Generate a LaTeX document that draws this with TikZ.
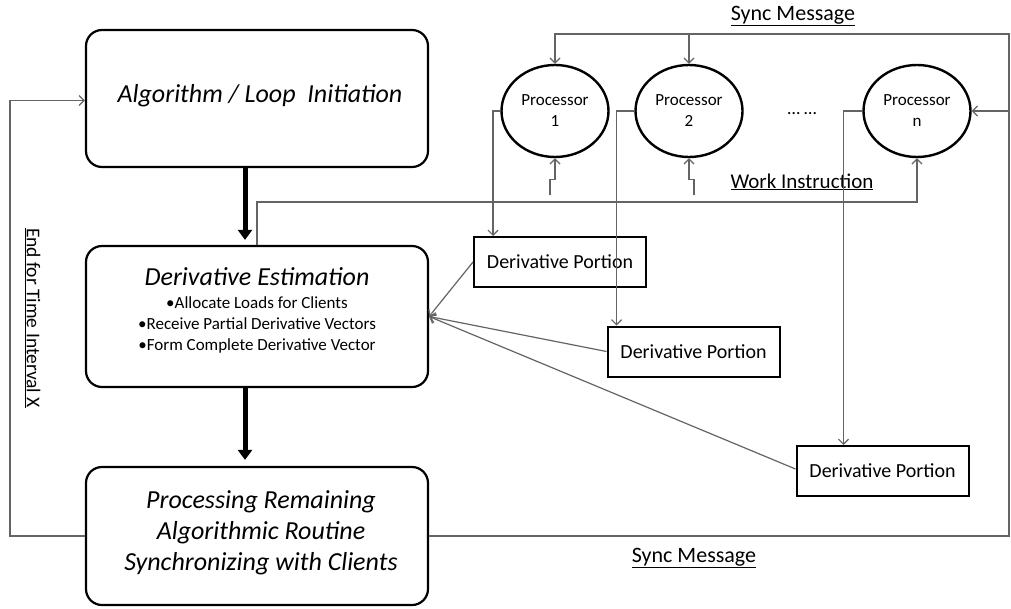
\documentclass[tikz,border=0pt]{standalone}
\usepackage{fontspec}
\setmainfont{Carlito}
\usetikzlibrary{arrows.meta,calc,shapes.geometric}
\definecolor{conncol}{RGB}{100,100,100}
\begin{document}
\begin{tikzpicture}[x=1pt,y=-1pt,
  box/.style={draw=black,line width=2.2pt,rounded corners=16pt,minimum width=342pt,inner sep=0pt},
  procnode/.style={draw=black,line width=2.4pt,ellipse,minimum width=107pt,minimum height=92pt,inner sep=0pt,font=\fontsize{17}{21}\selectfont,align=center},
  portion/.style={draw=black,line width=2pt,minimum width=172pt,minimum height=50pt,inner sep=0pt,font=\fontsize{20}{24}\selectfont},
  conn/.style={draw=conncol,line width=1.2pt,-{Straight Barb[length=5pt,width=10pt]}},
  big/.style={draw=black,line width=5pt,-{Triangle[length=10pt,width=14pt]}},
  title/.style={anchor=base,font=\fontsize{26}{31}\selectfont\itshape},
  bullet/.style={anchor=base,font=\fontsize{17}{21}\selectfont},
  label/.style={anchor=base,font=\fontsize{21}{25}\selectfont}]
\useasboundingbox (0,0) rectangle (1011,608);
\fill[white] (0,0) rectangle (1011,608);

% main boxes
\node[box,minimum height=137pt] (algo) at (257,98.5) {};
\node[box,minimum height=141pt] (deriv) at (257,316.5) {};
\node[box,minimum height=138pt] (proc) at (257,536) {};

\node[title] (algot) at (260,102) {Algorithm / Loop\ \ Initiation};
\node[title] (derivt) at (257,285) {Derivative Estimation};
\node[bullet] (b1) at (257,308) {•Allocate Loads for Clients};
\node[bullet] (b2) at (257,329) {•Receive Partial Derivative Vectors};
\node[bullet] (b3) at (257,350) {•Form Complete Derivative Vector};
\node[title] (pt1) at (261,508) {Processing Remaining};
\node[title] (pt2) at (261,539) {Algorithmic Routine};
\node[title] (pt3) at (261,570) {Synchronizing with Clients};

% processors
\node[procnode] (p1) at (555,111) {Processor\\1};
\node[procnode] (p2) at (689,111) {Processor\\2};
\node[procnode] (pn) at (917,111) {Processor\\n};
\node[anchor=base,font=\fontsize{18}{21}\selectfont] (dots) at (802,114) {\dots\ \dots};

% derivative portions
\node[portion] (dp1) at (560,262) {Derivative Portion};
\node[portion] (dp2) at (693.5,351.5) {Derivative Portion};
\node[portion] (dp3) at (882.5,471) {Derivative Portion};

% labels
\node[label,font=\fontsize{22}{25}\selectfont] (sync1) at (793,20) {\underline{Sync Message}};
\node[label] (work) at (802,188) {\underline{Work Instruction}};
\node[label,font=\fontsize{22}{25}\selectfont] (sync2) at (694,562) {\underline{Sync Message}};
\node[anchor=base,rotate=-90,font=\fontsize{19.5}{23}\selectfont] (endx) at (27,318) {\underline{End for Time Interval X}};

% thick flow arrows
\draw[big,shorten >=5pt] ([xshift=-12pt]algo.south) -- ([xshift=-12pt]deriv.north);
\draw[big,shorten >=6pt] ([xshift=-12pt]deriv.south) -- ([xshift=-12pt]proc.north);

% loop back
\coordinate (lb) at (10,536);
\draw[conn] (proc.west) -- (lb) |- ([yshift=-2pt]algo.west);

% sync message loop
\coordinate (rb) at (1009,536);
\coordinate (rt) at (1009,34);
\draw[conn] (proc.east) -- (rb) -- (rt) -| (p1.north);
\draw[conn] (p2.north |- rt) -- (p2.north);
\draw[conn] (rt |- pn.east) -- (pn.east);

% work instruction
\coordinate (wi) at (257,202);
\draw[conn] (deriv.north) -- (wi) -| (pn.south);

% small jog arrows
\coordinate (j1) at (550,195);
\coordinate (j2) at (694,195);
\draw[conn] (j1) |- ($(p1.south)+(0,21)$) -- (p1.south);
\draw[conn] (j2) |- ($(p2.south)+(0,21)$) -- (p2.south);

% processors to portions
\draw[conn] (p1.west) -| ([xshift=20pt]dp1.north west);
\draw[conn] (p2.west) -| ([xshift=10pt]dp2.north west);
\draw[conn] (pn.west) -| ([xshift=48pt]dp3.north west);

% portions to derivative estimation
\draw[conn] (dp1.west) -- (deriv.east);
\draw[conn] (dp2.west) -- (deriv.east);
\draw[conn] ([yshift=2pt]dp3.west) -- (deriv.east);
\end{tikzpicture}
\end{document}
